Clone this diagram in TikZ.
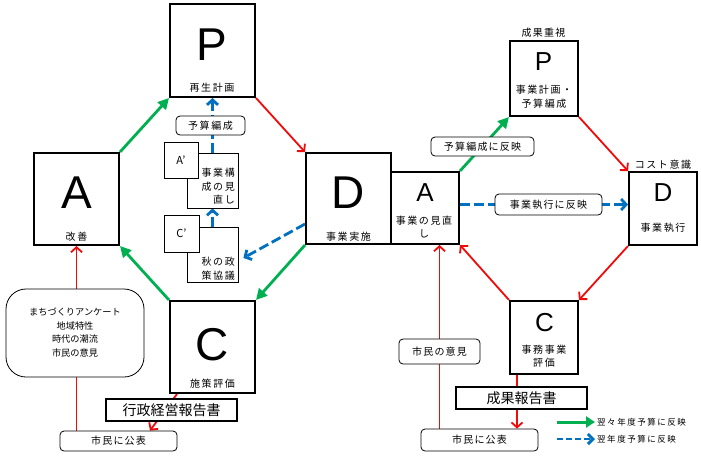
\documentclass[tikz,border=0pt]{standalone}
\usepackage{fontspec}
\setmainfont{Liberation Sans}
\newfontfamily\jp[LetterSpace=12]{Noto Sans CJK JP}
\newfontfamily\jpn{Noto Sans CJK JP}
\usetikzlibrary{arrows.meta,calc}
\definecolor{pgreen}{RGB}{0,176,80}
\definecolor{pred}{RGB}{240,10,10}
\definecolor{pblue}{RGB}{0,112,192}
\pgfdeclarelayer{bottom}
\pgfdeclarelayer{lines}
\pgfsetlayers{bottom,lines,main}
\begin{document}
\begin{tikzpicture}[x=1pt,y=-1pt,
 box/.style={draw, line width=2pt, fill=white, inner sep=0},
 thinbox/.style={draw, line width=0.8pt, fill=white, inner sep=0},
 rbox/.style={draw, line width=0.8pt, fill=white, rounded corners=4pt, inner sep=0},
 jt/.style={font=\jp\fontsize{10}{13.5}\selectfont, inner sep=0},
 jtw/.style={font=\jp\fontsize{10}{13.5}\selectfont\addfontfeature{LetterSpace=16}, inner sep=0},
 jtn/.style={font=\jpn\fontsize{9.2}{13.7}\selectfont, inner sep=0},
 jbig/.style={font=\jpn\fontsize{14}{14}\selectfont, inner sep=0},
 jleg/.style={font=\jp\fontsize{8.5}{8.5}\selectfont\addfontfeature{LetterSpace=18}, inner sep=0},
 jpr/.style={font=\jpn\fontsize{11}{11}\selectfont, inner sep=0},
 big/.style={font=\fontsize{46}{46}\selectfont, inner sep=0},
 mid/.style={font=\fontsize{26}{26}\selectfont, inner sep=0},
 garr/.style={pgreen, line width=2.8pt, -{Triangle[length=11pt,width=11pt]}},
 rarr/.style={pred, line width=1.8pt, -{Straight Barb[length=5pt,width=11pt]}},
 barr/.style={pblue, line width=2.8pt, dash pattern=on 10pt off 4pt, -{Straight Barb[length=5pt,width=11pt]}},
]
\begin{pgfonlayer}{bottom}
\fill[white] (0,0) rectangle (701,456);
\end{pgfonlayer}
\useasboundingbox (0,0) rectangle (701,456);

% ---------- left cycle boxes ----------
\node[box, minimum width=85pt, minimum height=93pt] (P) at (212.5,50.5) {};
\node[big] (Pl) at (212,45) {P};
\node[jtw] (Pt) at (212,88) {再生計画};

\node[box, minimum width=85pt, minimum height=92pt] (A) at (76.5,199) {};
\node[big] (Al) at (76.5,192.5) {A};
\node[jtw] (At) at (76.5,236.5) {改善};

\node[box, minimum width=85pt, minimum height=91pt] (D) at (348.5,198.5) {};
\node[big] (Dl) at (348.5,192.5) {D};
\node[jtw] (Dt) at (348.5,236.5) {事業実施};

\node[box, minimum width=85pt, minimum height=92pt] (C) at (212.5,347) {};
\node[big] (Cl) at (212.5,344.5) {C};
\node[jtw] (Ct) at (212.5,383.5) {施策評価};

% ---------- right cycle boxes ----------
\node[box, minimum width=68pt, minimum height=72pt] (A2) at (425,208) {};
\node[mid] (A2l) at (425,192.5) {A};
\node[jtw, align=center] (A2t) at (424,227) {事業の見直\\し};

\node[box, minimum width=68pt, minimum height=75pt] (P2) at (544,78.5) {};
\node[mid] (P2l) at (543.5,62) {P};
\node[jtw, align=center] (P2t) at (544,96.5) {事業計画・\\予算編成};
\node[jt] (P2h) at (543.5,33) {成果重視};

\node[box, minimum width=68pt, minimum height=73pt] (D2) at (663,208.5) {};
\node[mid] (D2l) at (663,192.5) {D};
\node[jtw] (D2t) at (663,227.5) {事業執行};
\node[jtw] (D2h) at (663,164.5) {コスト意識};

\node[box, minimum width=68pt, minimum height=73pt] (C2) at (544,337.5) {};
\node[mid] (C2l) at (544.5,322.5) {C};
\node[jtw, align=center] (C2t) at (544,356) {事務事業\\評価};

% ---------- inner boxes ----------
\node[rbox, minimum width=69pt, minimum height=19pt] (yosan) at (210.5,125.5) {};
\node[jtw] (yosant) at (210.5,125.5) {予算編成};

\node[thinbox, minimum width=51pt, minimum height=55pt] (koses) at (212.5,180.5) {};
\node[jtw, align=right, anchor=east] (kosest) at (235,186.5) {事業構\\成の見\\直し};
\node[thinbox, minimum width=34pt, minimum height=36pt] (Ap) at (181,160) {};
\node[jpr] (Apt) at (181,160) {A’};

\node[thinbox, minimum width=51pt, minimum height=55pt] (aki) at (212.5,254.5) {};
\node[jtw, align=right, anchor=east] (akit) at (235,268.5) {秋の政\\策協議};
\node[thinbox, minimum width=35pt, minimum height=37pt] (Cp) at (181.5,233.5) {};
\node[jpr] (Cpt) at (181.5,233.5) {C’};

\node[rbox, rounded corners=20pt, minimum width=138pt, minimum height=88pt] (machi) at (75,333) {};
\node[jtn, align=center] (machit) at (75,332.5) {まちづくりアンケート\\地域特性\\時代の潮流\\市民の意見};

\node[box, minimum width=131pt, minimum height=22pt] (gyosei) at (171.5,410) {};
\node[jbig] (gyoseit) at (171.5,410) {行政経営報告書};

\node[rbox, minimum width=117pt, minimum height=20pt] (koho1) at (118.5,441) {};
\node[jt] (koho1t) at (118.5,441) {市民に公表};

\node[rbox, minimum width=103pt, minimum height=19pt] (hanei) at (482.5,146.5) {};
\node[jt] (haneit) at (482.5,146.5) {予算編成に反映};

\node[rbox, minimum width=107pt, minimum height=21pt] (shikko) at (548.5,204.5) {};
\node[jt] (shikkot) at (548.5,204.5) {事業執行に反映};

\node[rbox, minimum width=81pt, minimum height=25pt] (iken) at (439.5,351.5) {};
\node[jt] (ikent) at (439.5,351.5) {市民の意見};

\node[box, minimum width=131pt, minimum height=22pt] (seika) at (521.5,398) {};
\node[jbig] (seikat) at (521.5,398) {成果報告書};

\node[rbox, minimum width=117pt, minimum height=22pt] (koho2) at (479.5,440) {};
\node[jt] (koho2t) at (479.5,440) {市民に公表};

% ---------- legend ----------
\coordinate (lg1s) at (557,422);
\coordinate (lg1e) at (595,422);
\coordinate (lg2s) at (557,439);
\coordinate (lg2e) at (595,439);
\node[jleg, anchor=west] (lg1t) at (597,422) {翌々年度予算に反映};
\node[jleg, anchor=west] (lg2t) at (597,439) {翌年度予算に反映};

% ---------- connectors (behind boxes) ----------
\begin{pgfonlayer}{lines}
\draw[garr] (A.north east) -- (P.south west);
\draw[rarr] (P.south east) -- (D.north west);
\draw[garr] (D.south west) -- (C.north east);
\draw[garr] (C.north west) -- (A.south east);

\draw[garr] (A2.north east) -- (P2.south west);
\draw[rarr] (P2.south east) -- (D2.north west);
\draw[rarr] (D2.south west) -- (C2.north east);
\draw[rarr] (C2.north west) -- (A2.south east);
\draw[barr] (A2.east |- shikko) -- (D2.west |- shikko);

\draw[barr] (koses.north) -- (P.south);
\draw[barr] (aki.north) -- (koses.south);
\draw[barr] ($(D.south west)+(0,-21)$) -- ($(aki.east)+(5,3.5)$);

\draw[rarr] (koho1.north -| A.south) -- (A.south);
\draw[rarr] ($(C.south west)+(8,0)$) -- ($(koho1.north)+(31.5,0)$);

\draw[rarr] (koho2.north -| iken) -- (A2.south -| iken);
\draw[rarr] ($(C2.south)+(-27,0)$) -- ($(koho2.north)+(37.5,0)$);

\draw[pgreen, line width=3pt, -{Triangle[length=9pt,width=11pt]}] (lg1s) -- (lg1e);
\draw[pblue, line width=2pt, dash pattern=on 6pt off 3pt, -{Straight Barb[length=5pt,width=10pt,line width=3pt]}] (lg2s) -- (lg2e);
\end{pgfonlayer}
\end{tikzpicture}
\end{document}
